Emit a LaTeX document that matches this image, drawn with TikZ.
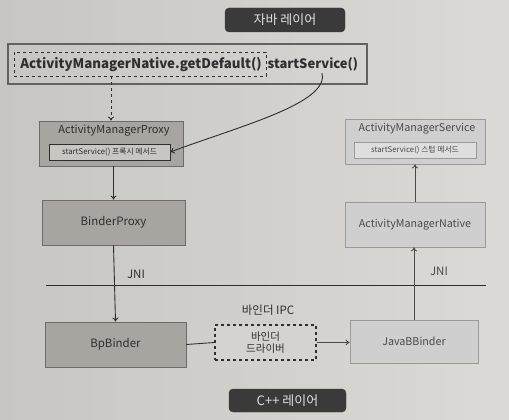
\documentclass[tikz,border=0pt]{standalone}
\usepackage{fontspec}
\setmainfont{Noto Sans CJK KR}
\usetikzlibrary{arrows.meta,calc}
\definecolor{bg}{HTML}{D5D3D0}
\definecolor{bgl}{HTML}{C8C6C3}
\definecolor{bgr}{HTML}{DCDAD7}
\definecolor{darklab}{HTML}{3A3A3A}
\definecolor{lfill}{HTML}{A8A5A1}
\definecolor{lborder}{HTML}{6E6B68}
\definecolor{linner}{HTML}{C9C6C2}
\definecolor{rfill}{HTML}{CFCFCF}
\definecolor{rborder}{HTML}{9A9A9A}
\definecolor{rinner}{HTML}{DEDEDE}
\definecolor{ink}{HTML}{2E2E2E}
\definecolor{rtext}{HTML}{4A4A4A}
\tikzset{
  layerlab/.style={fill=darklab,draw=darklab,rounded corners=4pt,text=white!88!black,font=\fontsize{13}{15}\selectfont,inner sep=0pt},
  leftbox/.style={fill=lfill,draw=lborder,line width=0.8pt,inner sep=0pt,text=ink,font=\fontsize{11.5}{13}\selectfont},
  rightbox/.style={fill=rfill,draw=rborder,line width=0.8pt,inner sep=0pt,text=rtext,font=\fontsize{10.7}{13}\selectfont},
  linbox/.style={fill=linner,draw=ink,line width=0.7pt,inner sep=0pt,text=ink,font=\fontsize{7.8}{9}\selectfont},
  rinbox/.style={fill=rinner,draw=rborder,line width=0.7pt,inner sep=0pt,text=rtext,font=\fontsize{7.8}{9}\selectfont},
  plain/.style={inner sep=0pt,text=ink,font=\fontsize{11.5}{13}\selectfont},
  conn/.style={draw=ink,line width=0.9pt,-{To[length=4pt,width=6pt]}},
  rconn/.style={draw=rtext,line width=0.9pt,-{To[length=4pt,width=6pt]}},
}
\begin{document}
\begin{tikzpicture}[x=1pt,y=-1pt]
\shade[left color=bgl,right color=bgr] (0,0) rectangle (509,420);
\useasboundingbox (0,0) rectangle (509,420);
% layer labels
\node[layerlab,minimum width=120pt,minimum height=24pt] (java) at (285,20) {자바 레이어};
\node[layerlab,minimum width=117pt,minimum height=23pt] (cpp) at (287.5,400.5) {C++ 레이어};
% top box
\node[draw=ink!75,line width=1.2pt,minimum width=359pt,minimum height=40pt,inner sep=0pt] (top) at (187.5,64) {};
\node[draw=ink,dashed,line width=0.7pt,minimum width=252pt,minimum height=24pt,inner sep=0pt] (gdbox) at (140,64) {};
\node[plain,font=\fontsize{13.3}{15}\selectfont\bfseries] (gd) at (141,64) {ActivityManagerNative.getDefault()};
\node[plain,anchor=west,font=\fontsize{13}{15}\selectfont\bfseries] (ss) at (267.5,64) {startService()};
% left column
\node[leftbox,minimum width=144pt,minimum height=45pt] (amp) at (111,143.5) {};
\node[plain,font=\fontsize{11}{13}\selectfont] (amptitle) at (114,131) {ActivityManagerProxy};
\node[linbox,minimum width=121pt,minimum height=16pt] (ampin) at (109.5,152) {startService() 프록시 메서드};
\node[leftbox,minimum width=143pt,minimum height=45pt] (bproxy) at (113.5,222.5) {BinderProxy};
\node[leftbox,minimum width=141pt,minimum height=45pt] (bp) at (115.5,344.5) {BpBinder};
% right column
\node[rightbox,minimum width=140pt,minimum height=45pt] (ams) at (415,141.5) {};
\node[plain,text=rtext,font=\fontsize{10.7}{13}\selectfont] (amstitle) at (417,129) {ActivityManagerService};
\node[rinbox,minimum width=122pt,minimum height=16pt] (amsin) at (415,150) {startService() 스텁 메서드};
\node[rightbox,minimum width=140pt,minimum height=45pt] (amn) at (415,224.5) {ActivityManagerNative};
\node[rightbox,minimum width=128pt,minimum height=43pt] (jbb) at (414,341.5) {JavaBBinder};
% driver
\node[draw=ink,dashed,line width=1.4pt,minimum width=101pt,minimum height=35pt,inner sep=0pt,align=center,text=ink,font=\fontsize{10.5}{12}\selectfont,fill=bg] (drv) at (265.5,342.5) {바인더\\드라이버};
\node[plain,font=\fontsize{11.5}{13}\selectfont] (ipc) at (268,310) {바인더 IPC};
% JNI line
\coordinate (ll) at (46,285);
\coordinate (lr) at (486,285);
\draw[ink,line width=0.8pt] (ll) -- (lr);
\node[plain] (jnil) at (136,274) {JNI};
\node[plain,text=rtext] (jnir) at (439,271) {JNI};
% connectors
\draw[conn,dashed] (amp.north |- gdbox.south) -- (amp.north);
\draw[conn] ($(ss.south)+(9,2)$) .. controls ($(ss.south)+(17,32)$) and (240,126) .. (ampin.east);
\draw[conn] (amp.south -| bproxy.north) -- (bproxy.north);
\draw[conn] (bproxy.south) -- (bp.north |- bp.north);
\draw[ink,line width=0.9pt] (bp.east) -- (drv.west);
\draw[rconn] (drv.east) -- (drv.east -| jbb.west);
\draw[rconn] (jbb.north) -- (jbb.north |- amn.south);
\draw[rconn] (amn.north) -- (amn.north |- ams.south);
\end{tikzpicture}
\end{document}
